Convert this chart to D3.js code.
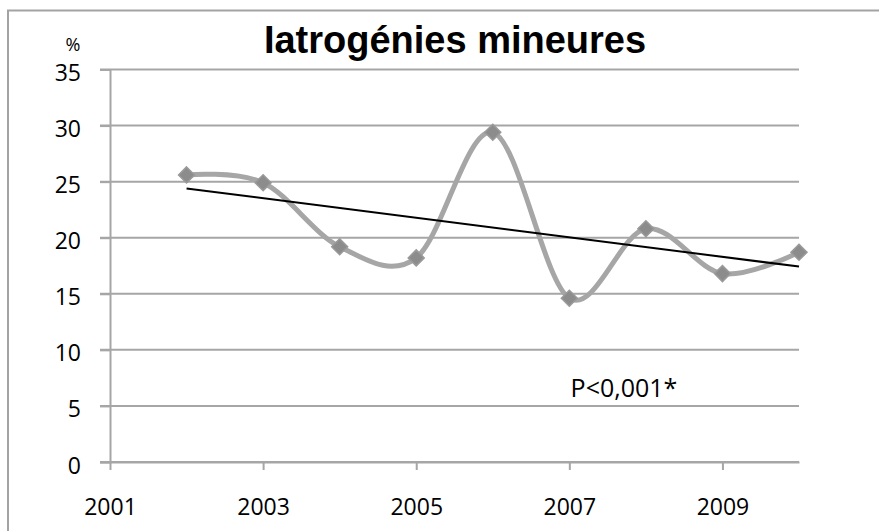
<!DOCTYPE html>
<html>
<head>
<meta charset="utf-8">
<script src="https://cdn.jsdelivr.net/npm/d3@7"></script>
<style>
  html, body { margin: 0; padding: 0; background: #fff; }
  svg { display: block; }
</style>
</head>
<body>
<script>
// Annual rate (%) of minor iatrogenic events
const years = [2002, 2003, 2004, 2005, 2006, 2007, 2008, 2009, 2010];
const rates = [25.6, 24.9, 19.2, 18.2, 29.4, 14.6, 20.8, 16.8, 18.7];
const yTicks = [0, 5, 10, 15, 20, 25, 30, 35];
const xTicks = [2001, 2003, 2005, 2007, 2009];
const titleText = "Iatrogénies mineures";
const unitLabel = "%";
const pLabel = "P<0,001*";

const W = 879, H = 531;
const svg = d3.select("body").append("svg").attr("width", W).attr("height", H);

const x = d3.scaleLinear().domain([2001, 2010]).range([110, 799]);
const y = d3.scaleLinear().domain([0, 35]).range([462, 69.5]);

const grey = "#a6a6a6";
const labelFont = "'Open Sans', sans-serif";

// outer frame (top and left edges visible)
svg.append("path")
  .attr("d", `M8,${H} V10.5 H${W}`)
  .attr("fill", "none").attr("stroke", "#a3a3a3").attr("stroke-width", 2);

// horizontal gridlines
svg.append("g").selectAll("line").data(yTicks).join("line")
  .attr("x1", 100).attr("x2", 799)
  .attr("y1", d => y(d)).attr("y2", d => y(d))
  .attr("stroke", grey).attr("stroke-width", 2);

// y axis
const yAxis = svg.append("g").attr("transform", "translate(110,0)")
  .call(d3.axisLeft(y).tickValues(yTicks).tickSize(10).tickPadding(19).tickFormat(d3.format("d")));
yAxis.select(".domain").attr("stroke", grey).attr("stroke-width", 2);
yAxis.selectAll(".tick line").attr("stroke", grey).attr("stroke-width", 2);
yAxis.selectAll("text").attr("font-family", labelFont).attr("font-size", 23).attr("fill", "#000")
  .attr("dy", "0.48em");

// x axis
const xAxis = svg.append("g").attr("transform", `translate(0,${y(0)})`)
  .call(d3.axisBottom(x).tickValues(xTicks).tickSize(8).tickSizeOuter(0).tickPadding(29).tickFormat(d3.format("d")));
xAxis.select(".domain").attr("stroke", grey).attr("stroke-width", 2);
xAxis.selectAll(".tick line").attr("stroke", grey).attr("stroke-width", 2);
xAxis.selectAll("text").attr("font-family", labelFont).attr("font-size", 23).attr("fill", "#000");

// smoothed series line
const pts = years.map((yr, i) => [yr, rates[i]]);
const line = d3.line().x(d => x(d[0])).y(d => y(d[1])).curve(d3.curveCatmullRom.alpha(0));
svg.append("path").datum(pts).attr("d", line)
  .attr("fill", "none").attr("stroke", grey).attr("stroke-width", 5)
  .attr("stroke-linejoin", "round");

// least-squares trend line
const mx = d3.mean(years), my = d3.mean(rates);
const slope = d3.sum(years, (yr, i) => (yr - mx) * (rates[i] - my)) / d3.sum(years, yr => (yr - mx) ** 2);
const trend = yr => my + slope * (yr - mx);
const x0 = d3.min(years), x1 = d3.max(years);
svg.append("line")
  .attr("x1", x(x0)).attr("y1", y(trend(x0)))
  .attr("x2", x(x1)).attr("y2", y(trend(x1)))
  .attr("stroke", "#000").attr("stroke-width", 2);

// diamond markers
svg.append("g").selectAll("path").data(pts).join("path")
  .attr("transform", d => `translate(${x(d[0])},${y(d[1])})`)
  .attr("d", "M0,-8 L8,0 L0,8 L-8,0 Z")
  .attr("fill", "#8c8c8c").attr("stroke", "#9a9a9a").attr("stroke-width", 1.5);

// title
svg.append("text").attr("x", 455).attr("y", 53).attr("text-anchor", "middle")
  .attr("font-family", "'Liberation Sans', Arial, sans-serif").attr("font-weight", "bold")
  .attr("font-size", 38).attr("fill", "#000").text(titleText);

// unit label, just above the top tick label
svg.append("text").attr("x", 73).attr("y", 51).attr("text-anchor", "middle")
  .attr("font-family", labelFont).attr("font-size", 18).attr("fill", "#000").text(unitLabel);

// significance annotation
svg.append("text").attr("x", 624).attr("y", 397).attr("text-anchor", "middle")
  .attr("font-family", labelFont).attr("font-size", 25).attr("fill", "#000").text(pLabel);
</script>
</body>
</html>
